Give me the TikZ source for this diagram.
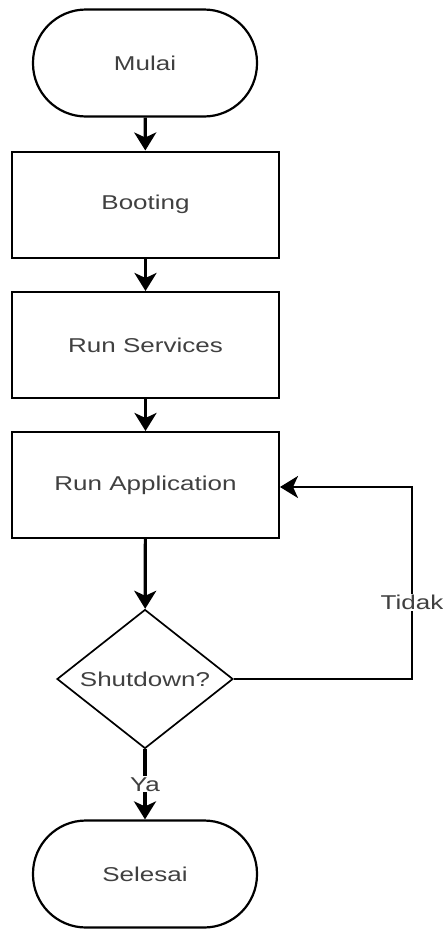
\documentclass[tikz,border=0pt]{standalone}
\usepackage{fontspec}
\setmainfont[FakeStretch=1.3]{Liberation Sans}
\usetikzlibrary{arrows.meta,shapes.geometric}
\begin{document}
\begin{tikzpicture}[x=1pt,y=-1pt,
  every node/.style={font=\fontsize{20}{24}\selectfont, text=black!75},
  term/.style={draw=black, line width=2.2pt, rectangle, rounded corners=53pt, minimum width=224pt, minimum height=107pt, inner sep=0pt},
  proc/.style={draw=black, line width=2pt, rectangle, minimum width=267pt, minimum height=106pt, inner sep=0pt},
  dec/.style={draw=black, line width=1.7pt, diamond, aspect=1.27, minimum width=176pt, minimum height=139pt, inner sep=0pt},
  arr/.style={draw=black, line width=3.2pt, -{Stealth[length=18pt,width=22pt,inset=5pt]}},
  lbl/.style={fill=white, inner sep=1pt}
]
\useasboundingbox (0,0) rectangle (442,929);
\node[term] (mulai) at (145,63) {Mulai};
\node[proc] (boot) at (145.5,204.5) {Booting};
\node[proc] (serv) at (145.5,345) {Run Services};
\node[proc] (app) at (145.5,485) {Run Application};
\node[dec] (dec) at (145,679) {Shutdown?};
\node[term] (end) at (145,874) {Selesai};
\coordinate (c1) at (412,679);
\coordinate (c2) at (412,487);
\draw[arr] (mulai) -- (boot);
\draw[arr] (boot) -- (serv);
\draw[arr] (serv) -- (app);
\draw[arr] (app) -- (dec);
\draw[arr] (dec) -- node[lbl, pos=0.5] {Ya} (end);
\draw[arr, line width=2.6pt] (dec.east) -- (c1) -- node[lbl, pos=0.4] {Tidak} (c2) -- (app.east |- c2);
\end{tikzpicture}
\end{document}
